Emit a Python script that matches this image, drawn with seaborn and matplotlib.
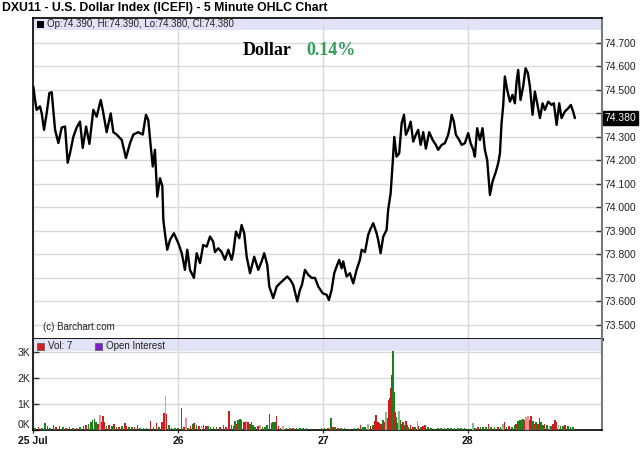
import numpy as np
import matplotlib
matplotlib.use("Agg")
import matplotlib.pyplot as plt
from matplotlib.patches import Rectangle
import seaborn as sns

# price trace (day of July, close)
price_days = [25.002, 25.014, 25.025, 25.048, 25.060, 25.076, 25.094, 25.113, 25.129, 25.140,
              25.152, 25.175, 25.198, 25.221, 25.239, 25.255, 25.278, 25.301, 25.324, 25.343,
              25.366, 25.389, 25.416, 25.439, 25.467, 25.481, 25.508, 25.536, 25.554, 25.577,
              25.612, 25.641, 25.669, 25.692, 25.726, 25.757, 25.779, 25.795, 25.812, 25.826,
              25.841, 25.857, 25.876, 25.892, 25.899, 25.910, 25.926, 25.945, 25.972, 26.002,
              26.026, 26.048, 26.064, 26.083, 26.110, 26.129, 26.152, 26.174, 26.198, 26.221,
              26.243, 26.255, 26.278, 26.301, 26.324, 26.347, 26.370, 26.381, 26.400, 26.423,
              26.439, 26.457, 26.474, 26.497, 26.526, 26.554, 26.577, 26.595, 26.616, 26.630,
              26.657, 26.681, 26.703, 26.726, 26.754, 26.777, 26.795, 26.823, 26.841, 26.855,
              26.876, 26.899, 26.922, 26.945, 26.968, 26.998, 27.026, 27.041, 27.060, 27.078,
              27.094, 27.112, 27.129, 27.140, 27.163, 27.186, 27.209, 27.232, 27.255, 27.267,
              27.290, 27.312, 27.329, 27.347, 27.370, 27.381, 27.398, 27.416, 27.439, 27.450,
              27.467, 27.481, 27.492, 27.508, 27.526, 27.543, 27.559, 27.572, 27.588, 27.605,
              27.623, 27.641, 27.657, 27.674, 27.692, 27.710, 27.733, 27.757, 27.779, 27.795,
              27.819, 27.841, 27.864, 27.876, 27.888, 27.903, 27.917, 27.940, 27.957, 27.979,
              28.002, 28.019, 28.037, 28.048, 28.064, 28.083, 28.101, 28.117, 28.133, 28.152,
              28.170, 28.193, 28.209, 28.221, 28.232, 28.243, 28.255, 28.271, 28.290, 28.308,
              28.324, 28.336, 28.347, 28.363, 28.381, 28.398, 28.414, 28.428, 28.446, 28.462,
              28.478, 28.497, 28.515, 28.531, 28.554, 28.577, 28.593, 28.612, 28.630, 28.646,
              28.669, 28.692, 28.710, 28.726, 28.738]
price_vals = [74.514, 74.457, 74.415, 74.430, 74.400, 74.330, 74.400, 74.487, 74.490, 74.415,
              74.330, 74.274, 74.340, 74.344, 74.190, 74.230, 74.300, 74.340, 74.365, 74.253,
              74.344, 74.270, 74.415, 74.386, 74.457, 74.415, 74.320, 74.400, 74.320, 74.310,
              74.287, 74.210, 74.273, 74.310, 74.320, 74.310, 74.394, 74.372, 74.260, 74.174,
              74.245, 74.046, 74.124, 74.090, 73.947, 73.890, 73.820, 73.862, 73.890, 73.848,
              73.805, 73.734, 73.820, 73.734, 73.700, 73.805, 73.763, 73.840, 73.833, 73.876,
              73.854, 73.810, 73.826, 73.810, 73.777, 73.820, 73.777, 73.806, 73.897, 73.869,
              73.925, 73.890, 73.790, 73.720, 73.790, 73.734, 73.770, 73.805, 73.755, 73.663,
              73.614, 73.663, 73.677, 73.690, 73.706, 73.690, 73.670, 73.600, 73.649, 73.670,
              73.734, 73.713, 73.700, 73.700, 73.663, 73.635, 73.628, 73.606, 73.649, 73.720,
              73.748, 73.777, 73.741, 73.770, 73.706, 73.720, 73.677, 73.734, 73.777, 73.820,
              73.810, 73.883, 73.910, 73.933, 73.890, 73.862, 73.805, 73.876, 73.904, 73.990,
              74.060, 74.188, 74.300, 74.216, 74.230, 74.358, 74.394, 74.309, 74.330, 74.365,
              74.280, 74.309, 74.330, 74.266, 74.320, 74.250, 74.320, 74.287, 74.266, 74.245,
              74.266, 74.273, 74.309, 74.344, 74.394, 74.365, 74.309, 74.287, 74.266, 74.273,
              74.316, 74.273, 74.245, 74.216, 74.337, 74.287, 74.337, 74.245, 74.202, 74.053,
              74.110, 74.152, 74.188, 74.230, 74.358, 74.429, 74.557, 74.500, 74.450, 74.479,
              74.443, 74.535, 74.585, 74.457, 74.514, 74.592, 74.571, 74.514, 74.394, 74.493,
              74.443, 74.380, 74.443, 74.415, 74.450, 74.436, 74.443, 74.351, 74.443, 74.380,
              74.408, 74.422, 74.436, 74.408, 74.380]

# volume bars: day, volume, colour code (g=up, r=down, l*=light)
vol_days = [25.014, 25.037, 25.060, 25.083, 25.099, 25.117, 25.140, 25.159, 25.182, 25.205,
            25.228, 25.251, 25.274, 25.301, 25.324, 25.347, 25.366, 25.382, 25.398, 25.411,
            25.423, 25.434, 25.448, 25.462, 25.471, 25.483, 25.494, 25.508, 25.526, 25.545,
            25.559, 25.577, 25.595, 25.614, 25.634, 25.646, 25.664, 25.683, 25.701, 25.720,
            25.738, 25.761, 25.784, 25.811, 25.830, 25.853, 25.871, 25.890, 25.901, 25.908,
            25.915, 25.922, 25.936, 25.956, 25.979, 26.002, 26.025, 26.041, 26.055, 26.071,
            26.087, 26.099, 26.110, 26.129, 26.147, 26.163, 26.175, 26.193, 26.209, 26.225,
            26.244, 26.267, 26.290, 26.313, 26.331, 26.354, 26.368, 26.382, 26.393, 26.405,
            26.416, 26.428, 26.439, 26.451, 26.462, 26.474, 26.485, 26.497, 26.508, 26.519,
            26.533, 26.552, 26.566, 26.582, 26.600, 26.616, 26.630, 26.644, 26.657, 26.669,
            26.680, 26.694, 26.708, 26.726, 26.749, 26.772, 26.795, 26.818, 26.841, 26.864,
            26.887,
            26.989, 27.011, 27.034, 27.057, 27.069, 27.085, 27.103, 27.126, 27.149, 27.184,
            27.218, 27.241, 27.260, 27.276, 27.292, 27.310, 27.329, 27.345, 27.356, 27.368,
            27.379, 27.391, 27.402, 27.414, 27.425, 27.437, 27.444, 27.453, 27.460, 27.467,
            27.471, 27.476, 27.483, 27.490, 27.499, 27.508, 27.517, 27.524, 27.536, 27.545,
            27.554, 27.563, 27.572, 27.582, 27.591, 27.605, 27.621, 27.637, 27.651, 27.660,
            27.678, 27.692, 27.706, 27.724, 27.747, 27.770, 27.793, 27.816, 27.839, 27.862,
            27.885, 27.908, 27.931, 27.954, 27.977, 28.005, 28.034, 28.051, 28.069, 28.087,
            28.106, 28.126, 28.143, 28.161, 28.184, 28.207, 28.225, 28.241, 28.253, 28.267,
            28.285, 28.303, 28.322, 28.333, 28.345, 28.356, 28.368, 28.379, 28.391, 28.402,
            28.414, 28.425, 28.437, 28.448, 28.460, 28.471, 28.483, 28.494, 28.506, 28.517,
            28.529, 28.547, 28.563, 28.575, 28.589, 28.602, 28.611, 28.625, 28.639, 28.655,
            28.671, 28.690, 28.708, 28.724]
vol_vals = [64, 115, 90, 256, 154, 90, 192, 115, 141, 103,
            90, 103, 90, 90, 115, 167, 192, 218, 320, 397,
            423, 295, 244, 577, 320, 538, 295, 167, 192, 141,
            218, 128, 103, 141, 269, 167, 115, 103, 115, 192,
            90, 90, 77, 346, 115, 269, 103, 320, 641, 641,
            1308, 603, 192, 77, 64, 64, 833, 128, 449, 90,
            141, 231, 256, 192, 141, 167, 192, 154, 167, 128,
            103, 128, 103, 192, 115, 731, 192, 141, 346, 244,
            397, 423, 397, 320, 295, 346, 295, 244, 295, 192,
            128, 141, 192, 128, 115, 192, 615, 256, 295, 320,
            551, 141, 90, 167, 90, 77, 90, 64, 77, 64,
            77,
            64, 77, 90, 449, 128, 103, 90, 77, 64, 51,
            64, 90, 192, 128, 115, 218, 141, 192, 346, 577,
            320, 256, 218, 385, 295, 705, 449, 1154, 1218, 1346,
            1603, 2115, 3038, 1474, 705, 513, 256, 731, 385, 218,
            295, 192, 346, 192, 128, 192, 128, 128, 346, 167,
            115, 141, 192, 103, 64, 51, 64, 64, 64, 77,
            64, 77, 64, 77, 64, 38, 282, 90, 115, 103,
            115, 128, 244, 103, 103, 103, 128, 218, 295, 115,
            141, 115, 192, 231, 346, 372, 385, 423, 385, 513,
            526, 397, 551, 346, 218, 295, 218, 449, 295, 192,
            218, 192, 167, 141, 218, 385, 295, 192, 141, 141,
            192, 141, 128, 103]
vol_colors = ["g", "r", "g", "g", "r", "g", "r", "r", "g", "g",
              "r", "g", "g", "r", "g", "r", "r", "g", "g", "g",
              "g", "g", "r", "lr", "r", "r", "r", "g", "r", "g",
              "r", "g", "r", "g", "r", "r", "g", "g", "r", "g",
              "g", "r", "g", "r", "r", "r", "g", "r", "r", "r",
              "lr", "r", "g", "g", "g", "g", "r", "r", "lr", "g",
              "r", "g", "r", "g", "r", "lr", "g", "r", "g", "g",
              "r", "g", "r", "g", "r", "r", "r", "g", "g", "r",
              "g", "g", "g", "r", "r", "lr", "r", "g", "r", "g",
              "g", "r", "lr", "g", "g", "g", "r", "r", "g", "g",
              "r", "r", "g", "lr", "g", "g", "r", "g", "g", "g",
              "g",
              "g", "g", "r", "g", "r", "g", "r", "g", "g", "g",
              "g", "g", "r", "g", "g", "lg", "r", "g", "r", "r",
              "r", "g", "r", "g", "r", "lg", "g", "r", "r", "r",
              "r", "r", "g", "g", "r", "g", "r", "lg", "g", "r",
              "r", "g", "r", "r", "g", "r", "r", "g", "lg", "r",
              "g", "r", "r", "g", "g", "g", "g", "g", "g", "g",
              "g", "g", "g", "g", "g", "g", "lg", "g", "r", "g",
              "g", "g", "r", "g", "g", "r", "g", "lg", "r", "g",
              "r", "g", "g", "r", "g", "g", "g", "g", "r", "lr",
              "lr", "r", "r", "g", "r", "g", "r", "r", "g", "g",
              "r", "g", "lg", "g", "r", "r", "r", "lg", "g", "g",
              "r", "g", "g", "g"]

day_ticks = [25, 26, 27, 28]
day_labels = ["25 Jul", "26", "27", "28"]
price_ticks = [73.5, 73.6, 73.7, 73.8, 73.9, 74.0, 74.1, 74.2, 74.3, 74.4, 74.5, 74.6, 74.7]
vol_ticks = [0, 1000, 2000, 3000]
vol_labels = ["0K", "1K", "2K", "3K"]
last_close = 74.380
change_pct = "0.14%"

sns.set_theme(style="white")
plt.rcParams["font.family"] = ["Liberation Sans", "DejaVu Sans"]

palette = {"g": "#1a801a", "r": "#d01c1c", "lg": "#86bd86", "lr": "#e39494"}
band = "#e3e3f7"
grid_c = "#d9d9d9"

fig = plt.figure(figsize=(6.4, 4.68), dpi=100)
fig.patch.set_facecolor("white")
ax = fig.add_axes([0.0516, 0.2756, 0.889, 0.686])
axv = fig.add_axes([0.0516, 0.0812, 0.889, 0.1944], sharex=ax)

# price panel
sns.lineplot(x=price_days, y=price_vals, ax=ax, color="black", linewidth=1.7,
             estimator=None, sort=False, zorder=3)
ax.set_xlim(25.0, 28.925)
ax.set_ylim(73.44, 74.806)
ax.set_axisbelow(True)
ax.grid(True, color=grid_c, linewidth=1)
ax.add_patch(Rectangle((0, 0.9626), 1, 0.0374, transform=ax.transAxes,
                       facecolor=band, edgecolor="none", zorder=0.1))
ax.yaxis.tick_right()
ax.set_yticks(price_ticks)
ax.set_yticklabels(["" if abs(t - 74.4) < 1e-6 else f"{t:.3f}" for t in price_ticks])
ax.tick_params(axis="y", direction="in", length=4, width=1, color="#333333",
               labelsize=7.5, labelcolor="#222222", pad=2, right=True, left=False)
ax.set_xticks(day_ticks)
ax.tick_params(axis="x", length=0, labelbottom=False)
ax.set_xlabel("")
ax.set_ylabel("")
for s in ["left", "top"]:
    ax.spines[s].set_color("black")
    ax.spines[s].set_linewidth(1.2)
ax.spines["right"].set_color("#7a7a7a")
ax.spines["right"].set_linewidth(1.5)
ax.spines["bottom"].set_color("black")
ax.spines["bottom"].set_linewidth(2)

ax.add_patch(Rectangle((0.007, 0.970), 0.0123, 0.0218, transform=ax.transAxes,
                       facecolor="black", edgecolor="none", zorder=4))
ax.text(0.0246, 0.981, "Op:74.390, Hi:74.390, Lo:74.380, Cl:74.380", transform=ax.transAxes,
        fontsize=7, color="#222222", va="center", ha="left")
ax.text(0.455, 0.884, "Dollar", transform=ax.transAxes, ha="right", va="baseline",
        fontsize=13, fontweight="bold", family=["Liberation Serif", "DejaVu Serif"], color="black")
ax.text(0.480, 0.884, change_pct, transform=ax.transAxes, ha="left", va="baseline",
        fontsize=13, fontweight="bold", family=["Liberation Serif", "DejaVu Serif"], color="#2e9d57")
ax.text(0.0176, 0.037, "(c) Barchart.com", transform=ax.transAxes, fontsize=7,
        color="#222222", va="center", ha="left")
ax.text(1.004, last_close, f"{last_close:.3f}", transform=ax.get_yaxis_transform(),
        fontsize=7.5, color="white", va="center", ha="left",
        bbox=dict(facecolor="black", edgecolor="black", pad=1.2), zorder=5, clip_on=False)

# volume panel
axv.bar(vol_days, vol_vals, width=0.011, color=[palette[c] for c in vol_colors],
        linewidth=0, zorder=3)
axv.set_ylim(0, 3500)
axv.set_axisbelow(True)
axv.grid(True, color=grid_c, linewidth=1)
axv.add_patch(Rectangle((0, 0.868), 1, 0.132, transform=axv.transAxes,
                        facecolor=band, edgecolor="none", zorder=0.1))
axv.set_yticks(vol_ticks)
axv.set_yticklabels(vol_labels)
axv.tick_params(axis="y", direction="in", length=4, width=1, color="#333333",
                labelsize=7.5, labelcolor="#222222", pad=2, left=True)
axv.get_yticklabels()[0].set_verticalalignment("bottom")
axv.set_xticks(day_ticks)
axv.set_xticklabels(day_labels, fontweight="bold")
axv.tick_params(axis="x", direction="out", length=2, width=1, color="#333333",
                labelsize=7.5, labelcolor="#111111", pad=2, bottom=True)
for s in ["left", "bottom"]:
    axv.spines[s].set_color("black")
    axv.spines[s].set_linewidth(1.2)
axv.spines["top"].set_visible(False)
axv.spines["right"].set_color("#7a7a7a")
axv.spines["right"].set_linewidth(1.5)

axv.add_patch(Rectangle((0.007, 0.879), 0.0123, 0.077, transform=axv.transAxes,
                        facecolor="#d42020", edgecolor="#555555", linewidth=0.5, zorder=4))
axv.text(0.0264, 0.918, "Vol: 7", transform=axv.transAxes, fontsize=7,
         color="#222222", va="center", ha="left")
axv.add_patch(Rectangle((0.109, 0.879), 0.0123, 0.077, transform=axv.transAxes,
                        facecolor="#7a22c8", edgecolor="#555555", linewidth=0.5, zorder=4))
axv.text(0.128, 0.918, "Open Interest", transform=axv.transAxes, fontsize=7,
         color="#222222", va="center", ha="left")

fig.text(0.003, 0.983, "DXU11 - U.S. Dollar Index (ICEFI) - 5 Minute OHLC Chart",
         fontsize=8.8, fontweight="bold", color="black", ha="left", va="center")

fig.savefig("out.png", dpi=100, facecolor="white")
